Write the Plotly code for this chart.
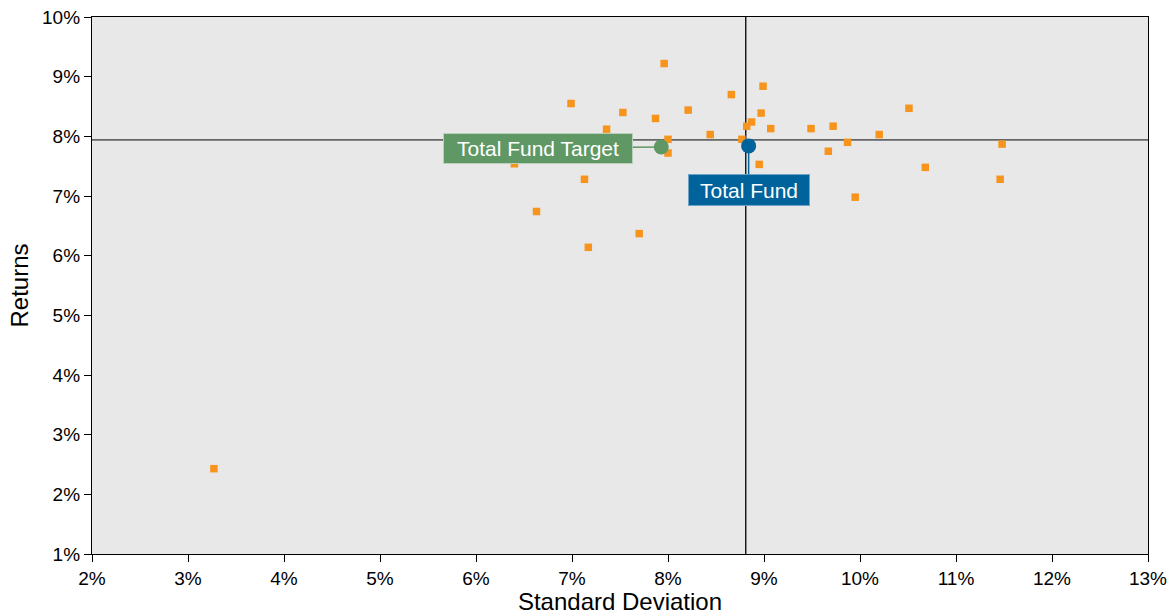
import plotly.graph_objects as go

# Peer universe: standard deviation (%) and returns (%)
peer_sd = [3.27, 6.99, 7.53, 7.87, 8.21, 8.66, 8.99, 8.97, 8.87, 8.82, 9.07, 7.36, 8.44, 8.00,
           8.77, 8.00, 6.40, 8.95, 7.13, 6.63, 7.70, 7.17, 7.96,
           10.51, 9.49, 9.72, 10.20, 9.87, 9.67, 11.48, 10.68, 11.46, 9.95]
peer_ret = [2.43, 8.55, 8.40, 8.30, 8.44, 8.70, 8.84, 8.39, 8.24, 8.17, 8.13, 8.12, 8.03, 7.95,
            7.95, 7.72, 7.54, 7.53, 7.28, 6.74, 6.37, 6.14, 9.22,
            8.47, 8.13, 8.17, 8.03, 7.90, 7.75, 7.87, 7.48, 7.28, 6.98]

fund_names = ["Total Fund Target", "Total Fund"]
fund_sd = [7.93, 8.84]
fund_ret = [7.82, 7.84]
fund_colors = ["#5f9865", "#00639c"]

median_sd = 8.81
median_ret = 7.94

x_ticks = list(range(2, 14))
y_ticks = list(range(1, 11))

FONT = "Liberation Sans, Arial"

fig = go.Figure()

fig.add_trace(go.Scatter(
    x=peer_sd, y=peer_ret, mode="markers",
    marker=dict(symbol="square", size=7.5, color="#f7941d", line=dict(width=0)),
    showlegend=False, hoverinfo="skip"))

fig.add_shape(type="line", xref="x", yref="paper", x0=median_sd, x1=median_sd, y0=0, y1=1,
              line=dict(color="#000000", width=1.3), layer="below")
fig.add_shape(type="line", xref="paper", yref="y", x0=0, x1=1, y0=median_ret, y1=median_ret,
              line=dict(color="#666666", width=1.6), layer="below")

for name, sx, ry, col in zip(fund_names, fund_sd, fund_ret, fund_colors):
    fig.add_trace(go.Scatter(
        x=[sx], y=[ry], mode="markers",
        marker=dict(symbol="circle", size=15, color=col),
        showlegend=False, hoverinfo="skip"))

fig.add_annotation(x=fund_sd[0], y=fund_ret[0], text="Total Fund Target",
                   ax=-123, ay=1, showarrow=True, arrowhead=0, arrowwidth=1.5,
                   arrowcolor=fund_colors[0], bgcolor=fund_colors[0],
                   bordercolor="#b9d1bb", borderwidth=1, borderpad=0,
                   width=188, height=29,
                   font=dict(family=FONT, size=21, color="white"))
fig.add_annotation(x=fund_sd[1], y=fund_ret[1], text="Total Fund",
                   ax=0, ay=44, showarrow=True, arrowhead=0, arrowwidth=1.5,
                   arrowcolor=fund_colors[1], bgcolor=fund_colors[1],
                   bordercolor="#6fa4c6", borderwidth=1, borderpad=0,
                   width=120, height=30,
                   font=dict(family=FONT, size=21, color="white"))

axis_common = dict(showline=True, linecolor="#000000", linewidth=1.3, mirror=True,
                   ticks="outside", ticklen=7, tickcolor="#000000", tickwidth=1.3,
                   showgrid=False, zeroline=False, automargin=False,
                   tickfont=dict(family=FONT, size=19, color="#000000"))

fig.update_xaxes(range=[2, 13], tickvals=x_ticks, ticktext=[f"{v}%" for v in x_ticks],
                 title=dict(text="Standard Deviation", standoff=1,
                            font=dict(family=FONT, size=24, color="#000000")),
                 **axis_common)
fig.update_yaxes(range=[1, 10], tickvals=y_ticks, ticktext=[f"{v}%" for v in y_ticks],
                 title=dict(text="Returns", standoff=6,
                            font=dict(family=FONT, size=24, color="#000000")),
                 **axis_common)

fig.update_layout(
    width=1172, height=615,
    margin=dict(l=92, r=24, t=17, b=61),
    plot_bgcolor="#e8e8e8", paper_bgcolor="#ffffff",
    font=dict(family=FONT),
)

fig.write_html("out.html", config={"displayModeBar": False},
               post_script="document.body.style.margin='0';")
